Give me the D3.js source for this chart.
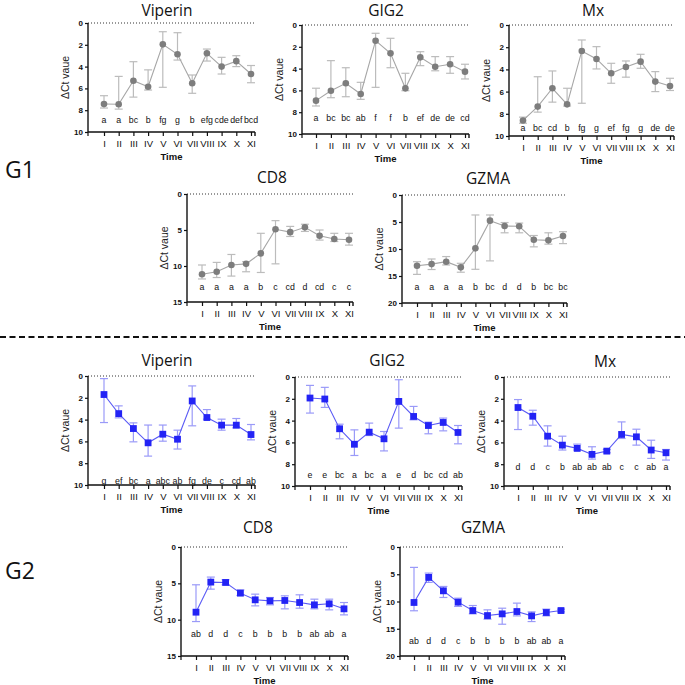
<!DOCTYPE html>
<html><head><meta charset="utf-8">
<script src="https://cdn.jsdelivr.net/npm/d3@7"></script>
<style>
html,body{margin:0;padding:0;background:#fff;}
svg{display:block;font-family:"Liberation Sans",Arial,sans-serif;}
</style></head>
<body><svg id="c" width="685" height="685"></svg>
<script>
// ---- data ----
const times = ["I","II","III","IV","V","VI","VII","VIII","IX","X","XI"];
const genes = ["Viperin","GIG2","Mx","CD8","GZMA"];
const groups = ["G1","G2"];
const yTicks10 = [0,2,4,6,8,10];
const yTicks15 = [0,5,10,15];
const yTicks20 = [0,5,10,15,20];

// G1 (grey)
const g1ViperinMean = [7.43,7.46,5.3,5.85,1.96,2.87,5.53,2.78,4.0,3.5,4.68];
const g1ViperinLo   = [6.67,4.9,3.55,4.3,0.8,0.89,4.77,2.39,3.15,3.0,3.9];
const g1ViperinHi   = [7.8,7.9,6.8,6.15,5.9,3.4,6.45,3.49,4.68,4.0,5.48];
const g1ViperinLetters = ["a","a","bc","b","fg","g","b","efg","cde","def","bcd"];

const g1Gig2Mean = [6.94,6.03,5.35,6.33,1.44,2.6,5.81,2.97,3.83,3.6,4.28];
const g1Gig2Lo   = [5.8,3.27,3.92,5.26,0.76,1.22,4.43,2.45,2.9,2.9,3.6];
const g1Gig2Hi   = [7.43,6.67,6.58,6.82,5.72,3.92,6.03,3.73,4.2,4.43,4.95];
const g1Gig2Letters = ["a","bc","bc","ab","f","f","b","ef","de","de","cd"];

const g1MxMean = [8.6,7.35,5.7,7.15,2.34,3.06,4.35,3.78,3.3,5.1,5.5];
const g1MxLo   = [8.3,4.66,4.14,5.7,1.35,1.95,3.45,3.24,2.64,4.2,4.8];
const g1MxHi   = [8.85,7.85,6.95,7.3,7.05,3.96,5.25,4.7,3.9,6.0,5.9];
const g1MxLetters = ["a","bc","cd","b","fg","g","ef","fg","g","de","de"];

const g1Cd8Mean = [11.15,10.8,9.86,9.7,8.24,4.9,5.3,4.63,5.8,6.25,6.35];
const g1Cd8Lo   = [9.86,9.5,8.4,9.4,5.46,3.7,4.5,4.2,5.0,5.46,5.46];
const g1Cd8Hi   = [11.8,11.6,11.4,10.8,10.9,9.7,5.9,5.2,6.4,6.6,7.1];
const g1Cd8Letters = ["a","a","a","a","b","c","cd","d","cd","c","c"];

const g1GzmaMean = [13.1,12.8,12.35,13.4,9.88,4.75,5.75,5.8,8.3,8.4,7.6];
const g1GzmaLo   = [12.35,11.85,11.4,12.65,3.7,3.7,5.1,5.2,7.5,7.0,6.8];
const g1GzmaHi   = [14.7,13.8,12.96,14.3,13.76,12.2,7.0,7.0,9.6,9.1,9.0];
const g1GzmaLetters = ["a","a","a","a","b","bc","d","d","b","bc","bc"];

// G2 (blue)
const g2ViperinMean = [1.7,3.45,4.82,6.13,5.34,5.8,2.29,3.81,4.51,4.51,5.37];
const g2ViperinLo   = [0.24,2.74,4.3,4.5,4.5,4.97,0.91,3.08,3.96,3.9,4.45];
const g2ViperinHi   = [4.27,3.84,6.04,7.35,5.98,6.7,4.57,3.96,4.97,4.76,5.86];
const g2ViperinLetters = ["g","ef","bc","a","abc","ab","fg","de","c","cd","ab"];

const g2Gig2Mean = [1.93,2.02,4.75,6.17,5.06,5.67,2.24,3.62,4.45,4.17,5.09];
const g2Gig2Lo   = [0.77,0.95,4.33,4.85,4.23,5.0,0.25,2.7,4.14,3.77,4.45];
const g2Gig2Hi   = [3.31,2.79,5.67,7.2,5.37,6.78,4.69,3.93,5.21,4.94,6.13];
const g2Gig2Letters = ["e","e","bc","a","bc","a","e","d","bc","cd","ab"];

const g2MxMean = [2.8,3.6,5.43,6.25,6.55,7.1,6.8,5.27,5.49,6.7,6.95];
const g2MxLo   = [2.07,3.05,4.48,5.43,6.16,6.4,6.65,4.12,4.79,5.8,6.65];
const g2MxHi   = [4.82,4.42,6.34,6.7,6.7,7.53,6.95,5.64,6.25,7.47,7.62];
const g2MxLetters = ["d","d","c","b","ab","ab","ab","c","c","ab","a"];

const g2Cd8Mean = [8.97,4.83,4.88,6.35,7.27,7.41,7.36,7.64,7.96,7.82,8.51];
const g2Cd8Lo   = [5.2,4.14,4.5,5.9,6.49,6.95,6.72,6.58,7.18,7.18,7.64];
const g2Cd8Hi   = [10.26,5.8,5.2,6.67,8.1,7.96,8.51,8.42,8.51,8.65,9.34];
const g2Cd8Letters = ["ab","d","d","c","b","b","b","b","ab","ab","a"];

const g2GzmaMean = [10.18,5.58,8.04,10.12,11.66,12.58,12.27,11.84,12.64,12.02,11.66];
const g2GzmaLo   = [3.74,4.79,7.24,9.39,10.74,11.53,11.23,10.3,11.9,11.4,11.4];
const g2GzmaHi   = [11.7,6.5,9.26,10.9,12.27,13.25,14.17,12.64,13.68,12.64,11.9];
const g2GzmaLetters = ["ab","d","d","c","b","b","b","b","ab","ab","a"];

// ---- layout (positions only) ----
const panels = [
 {g:0,gene:0,mean:g1ViperinMean,lo:g1ViperinLo,hi:g1ViperinHi,let:g1ViperinLetters,ticks:yTicks10,ax:88,xa:104,xb:251,ya:23,yb:132,tx:167,ty:16,ly:8.9},
 {g:0,gene:1,mean:g1Gig2Mean,lo:g1Gig2Lo,hi:g1Gig2Hi,let:g1Gig2Letters,ticks:yTicks10,ax:302,xa:316,xb:465,ya:25,yb:134,tx:386,ty:16,ly:8.5},
 {g:0,gene:2,mean:g1MxMean,lo:g1MxLo,hi:g1MxHi,let:g1MxLetters,ticks:yTicks10,ax:509,xa:523,xb:670,ya:25,yb:136,tx:593,ty:16,ly:9.25},
 {g:0,gene:3,mean:g1Cd8Mean,lo:g1Cd8Lo,hi:g1Cd8Hi,let:g1Cd8Letters,ticks:yTicks15,ax:187,xa:202,xb:349,ya:194,yb:302,tx:272,ty:183,ly:12.9},
 {g:0,gene:4,mean:g1GzmaMean,lo:g1GzmaLo,hi:g1GzmaHi,let:g1GzmaLetters,ticks:yTicks20,ax:402,xa:417,xb:563,ya:195,yb:303,tx:488,ty:184,ly:17.1},
 {g:1,gene:0,mean:g2ViperinMean,lo:g2ViperinLo,hi:g2ViperinHi,let:g2ViperinLetters,ticks:yTicks10,ax:88,xa:104,xb:251,ya:376,yb:485,tx:167,ty:366,ly:9.6},
 {g:1,gene:1,mean:g2Gig2Mean,lo:g2Gig2Lo,hi:g2Gig2Hi,let:g2Gig2Letters,ticks:yTicks10,ax:295,xa:310,xb:458,ya:377,yb:486,tx:387,ty:366,ly:9.0},
 {g:1,gene:2,mean:g2MxMean,lo:g2MxLo,hi:g2MxHi,let:g2MxLetters,ticks:yTicks10,ax:504,xa:518,xb:666,ya:377,yb:486,tx:605,ty:367,ly:8.23},
 {g:1,gene:3,mean:g2Cd8Mean,lo:g2Cd8Lo,hi:g2Cd8Hi,let:g2Cd8Letters,ticks:yTicks15,ax:181,xa:196,xb:344,ya:547,yb:656,tx:258,ty:533,ly:12.0},
 {g:1,gene:4,mean:g2GzmaMean,lo:g2GzmaLo,hi:g2GzmaHi,let:g2GzmaLetters,ticks:yTicks20,ax:400,xa:414,xb:561,ya:547,yb:656,tx:483,ty:533,ly:17.2}
];
const styles = [
 {pt:"#7d7d7d",line:"#a6a6a6",err:"#bcbcbc"},
 {pt:"#2323f5",line:"#5b5bf5",err:"#9a9af8"}
];

const svg = d3.select("#c");

panels.forEach(p => {
  const st = styles[p.g];
  const g = svg.append("g");
  const x = d3.scalePoint().domain(times).range([p.xa, p.xb]);
  const yMax = p.ticks[p.ticks.length-1];
  const y = d3.scaleLinear().domain([0, yMax]).range([p.ya, p.yb]);
  const xEnd = p.xb + 4;

  // dotted zero line
  g.append("line").attr("x1", p.ax).attr("x2", xEnd).attr("y1", y(0)).attr("y2", y(0))
    .attr("stroke","#333").attr("stroke-width",1).attr("stroke-dasharray","1,2");

  // y axis
  const yAxis = d3.axisLeft(y).tickValues(p.ticks).tickSize(3).tickPadding(2);
  const ya = g.append("g").attr("transform",`translate(${p.ax},0)`).call(yAxis);
  ya.select(".domain").attr("stroke","#111").attr("stroke-width",1.4).attr("d",`M0,${p.ya}V${p.yb}`);
  ya.selectAll(".tick line").attr("stroke","#111").attr("stroke-width",1.2);
  ya.selectAll(".tick text").attr("font-size",8).attr("font-weight","bold").attr("fill","#111")
    .attr("font-family","'Liberation Sans',Arial,sans-serif");

  // x axis
  const xAxis = d3.axisBottom(x).tickSize(4).tickPadding(4);
  const xa = g.append("g").attr("transform",`translate(0,${p.yb})`).call(xAxis);
  xa.select(".domain").attr("stroke","#111").attr("stroke-width",1.4).attr("d",`M${p.ax},0H${xEnd}M${xEnd},0V4`);
  xa.selectAll(".tick line").attr("stroke","#111").attr("stroke-width",1.2);
  xa.selectAll(".tick text").attr("font-size",9.5).attr("fill","#111")
    .attr("font-family","'Liberation Sans',Arial,sans-serif");
  g.append("line").attr("x1",p.ax).attr("x2",p.ax).attr("y1",p.yb).attr("y2",p.yb+4).attr("stroke","#111").attr("stroke-width",1.2);

  // axis titles
  g.append("text").attr("x",(p.ax+xEnd)/2).attr("y",p.yb+28).attr("text-anchor","middle")
    .attr("font-size",9.5).attr("font-weight","bold").attr("fill","#111").text("Time");
  g.append("text").attr("transform",`translate(${p.ax-19},${(p.ya+p.yb)/2}) rotate(-90)`)
    .attr("text-anchor","middle").attr("font-size",10.5).attr("fill","#222").text("ΔCt vaue");

  // panel title
  g.append("text").attr("x",p.tx).attr("y",p.ty).attr("text-anchor","middle")
    .attr("font-size",15.5).attr("fill","#111").attr("font-family","'Open Sans','Noto Sans',sans-serif").text(genes[p.gene]);

  const rows = times.map((t,i)=>({t, m:p.mean[i], lo:p.lo[i], hi:p.hi[i], l:p.let[i]}));

  // error bars
  const eb = g.append("g").attr("stroke",st.err).attr("stroke-width",1.2);
  rows.forEach(r=>{
    eb.append("line").attr("x1",x(r.t)).attr("x2",x(r.t)).attr("y1",y(r.lo)).attr("y2",y(r.hi));
    eb.append("line").attr("x1",x(r.t)-4).attr("x2",x(r.t)+4).attr("y1",y(r.lo)).attr("y2",y(r.lo));
    eb.append("line").attr("x1",x(r.t)-4).attr("x2",x(r.t)+4).attr("y1",y(r.hi)).attr("y2",y(r.hi));
  });

  // connecting line
  g.append("path").datum(rows).attr("fill","none").attr("stroke",st.line).attr("stroke-width",1.1)
    .attr("d", d3.line().x(r=>x(r.t)).y(r=>y(r.m)));

  // markers
  if (p.g === 0) {
    g.selectAll(".pt").data(rows).enter().append("circle")
      .attr("cx",r=>x(r.t)).attr("cy",r=>y(r.m)).attr("r",3.3).attr("fill",st.pt);
  } else {
    g.selectAll(".pt").data(rows).enter().append("rect")
      .attr("x",r=>x(r.t)-3.4).attr("y",r=>y(r.m)-3.4).attr("width",6.8).attr("height",6.8).attr("fill",st.pt);
  }

  // significance letters
  g.selectAll(".lt").data(rows).enter().append("text")
    .attr("x",r=>x(r.t)).attr("y",y(p.ly)).attr("dy","0.35em").attr("text-anchor","middle")
    .attr("font-size",8.8).attr("fill","#111").text(r=>r.l);
});

// group labels
svg.append("text").attr("x",5).attr("y",178).attr("font-size",23).attr("fill","#111")
  .attr("font-family","'Open Sans','Noto Sans',sans-serif").text(groups[0]);
svg.append("text").attr("x",5).attr("y",579).attr("font-size",23).attr("fill","#111")
  .attr("font-family","'Open Sans','Noto Sans',sans-serif").text(groups[1]);

// separator dashed line
svg.append("line").attr("x1",0).attr("x2",685).attr("y1",337).attr("y2",337)
  .attr("stroke","#111").attr("stroke-width",2).attr("stroke-dasharray","6,3.5");
</script></body></html>
